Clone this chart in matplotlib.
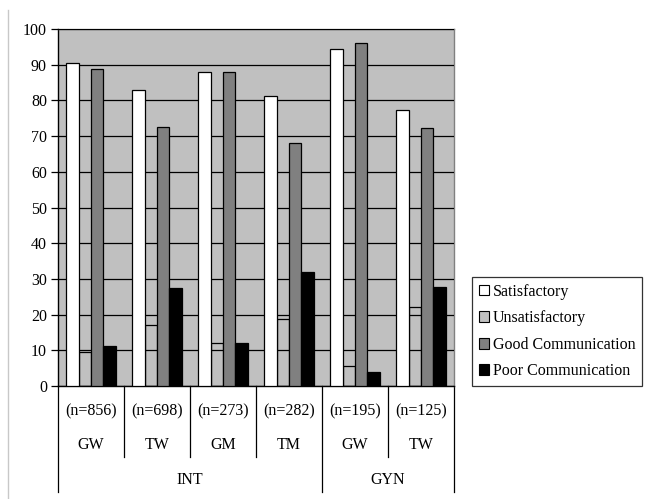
import numpy as np
import matplotlib
matplotlib.use("Agg")
import matplotlib.pyplot as plt
from matplotlib.lines import Line2D
from matplotlib.patches import Patch

plt.rcParams['font.family'] = ['Liberation Serif', 'DejaVu Serif']

# -----------------------------
# Data
# -----------------------------
groups = ["INT", "GYN"]
wards = ["GW", "TW", "GM", "TM", "GW", "TW"]
counts = ["(n=856)", "(n=698)", "(n=273)", "(n=282)", "(n=195)", "(n=125)"]
group_sizes = [4, 2]

series_names = ["Satisfactory", "Unsatisfactory", "Good Communication", "Poor Communication"]
satisfactory = [90.6, 82.8, 88.0, 81.1, 94.3, 77.4]
unsatisfactory = [9.4, 17.2, 12.0, 18.8, 5.5, 22.2]
good_comm = [88.7, 72.6, 88.0, 68.1, 96.2, 72.3]
poor_comm = [11.3, 27.5, 12.0, 31.9, 3.8, 27.7]
series = [satisfactory, unsatisfactory, good_comm, poor_comm]
colors = ["#ffffff", "#c0c0c0", "#808080", "#000000"]

FS = 11.5

# -----------------------------
# Figure
# -----------------------------
fig = plt.figure(figsize=(6.45, 4.99), dpi=100)
ax = fig.add_axes([58 / 645, 113 / 499, 396 / 645, 357 / 499])
ax.set_facecolor("#c0c0c0")

x = np.arange(len(wards))
w = 0.186
for i, (vals, c) in enumerate(zip(series, colors)):
    # the light gray bars sit under the gridlines, like in the original
    z = 1 if i == 1 else 3
    ax.bar(x + (i - 1.5) * w, vals, width=w, color=c, edgecolor="black",
           linewidth=0.9, zorder=z)

ax.set_xlim(-0.5, len(wards) - 0.5)
ax.set_ylim(0, 100)
ax.set_yticks(range(0, 101, 10))
ax.yaxis.grid(True, color="black", linewidth=0.9, zorder=2)
ax.set_axisbelow(False)
ax.tick_params(axis="y", direction="out", length=5, width=0.9, labelsize=FS, pad=3)
ax.tick_params(axis="x", length=0, labelbottom=False)
for s in ["top", "right"]:
    ax.spines[s].set_color("#808080")
    ax.spines[s].set_linewidth(1.0)
for s in ["left", "bottom"]:
    ax.spines[s].set_color("black")
    ax.spines[s].set_linewidth(1.0)
for gl in ax.get_ygridlines():
    gl.set_zorder(2)

# -----------------------------
# Multi-level category axis
# -----------------------------
trans = ax.get_xaxis_transform()
for xi in x:
    ax.text(xi, -0.07, counts[xi], transform=trans, ha="center", va="center", fontsize=FS)
    ax.text(xi, -0.165, wards[xi], transform=trans, ha="center", va="center", fontsize=FS)

bounds = np.cumsum([0] + group_sizes) - 0.5
for b in np.arange(-0.5, len(wards), 1.0):
    long = any(np.isclose(b, bounds))
    y_end = -0.296 if long else -0.198
    ax.add_line(Line2D([b, b], [0, y_end], transform=trans, color="black",
                       linewidth=0.9, clip_on=False))
for g, start, size in zip(groups, bounds[:-1], group_sizes):
    ax.text(start + size / 2, -0.263, g, transform=trans, ha="center", va="center", fontsize=FS)

# chart frame line on the left
fig.add_artist(Line2D([8 / 645, 8 / 645], [0, 1 - 10 / 499], transform=fig.transFigure,
                      color="#c8c8c8", linewidth=1.0))

# -----------------------------
# Legend
# -----------------------------
handles = [Patch(facecolor=c, edgecolor="black", linewidth=0.8) for c in colors]
leg = fig.legend(handles, series_names, loc="upper left",
                 bbox_to_anchor=(472 / 645, 1 - 277 / 499), fontsize=FS,
                 frameon=True, fancybox=False, handlelength=0.65, handleheight=0.65,
                 handletextpad=0.25, labelspacing=0.66, borderpad=0.42,
                 borderaxespad=0)
leg.get_frame().set_edgecolor("black")
leg.get_frame().set_linewidth(0.9)

fig.savefig("out.png", dpi=100)
